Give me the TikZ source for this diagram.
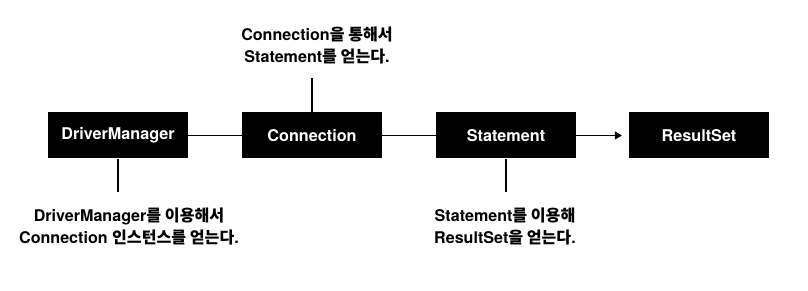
\documentclass[tikz,border=0pt]{standalone}
\usepackage{fontspec}
\setmainfont{TeX Gyre Heros}
\newfontfamily\kr{Noto Sans CJK KR}
\usetikzlibrary{arrows.meta}
\tikzset{
  box/.style={fill=black, text=white, minimum width=140pt, minimum height=46pt, inner sep=0pt, font=\fontsize{16.2}{18}\selectfont\bfseries},
  conn/.style={line width=1.4pt, draw=black},
  note/.style={align=center, font=\fontsize{16.1}{22}\selectfont\bfseries, inner sep=0pt}
}
\begin{document}
\begin{tikzpicture}[x=1pt,y=-1pt]
\useasboundingbox (0,0) rectangle (808,291);
\node[box] (dm) at (118,135.5) {DriverManager};
\node[box] (cn) at (312,135.5) {Connection};
\node[box] (st) at (506,135.5) {Statement};
\node[box] (rs) at (699,135.5) {ResultSet};
\coordinate (ctop) at (312,78);
\coordinate (dmb) at (118,192);
\coordinate (stb) at (506,192);
\draw[conn] (dm) -- (cn);
\draw[conn] (cn) -- (st);
\draw[conn, -{Triangle[length=7pt,width=8pt]}, shorten >=7pt] (st) -- (rs);
\draw[conn] (cn.north) -- (ctop);
\draw[conn] (dm.south) -- (dmb);
\draw[conn] (st.south) -- (stb);
\node[note] (t1) at (317,45.5) {Connection{\kr 을 통해서}\\Statement{\kr 를 얻는다}.};
\node[note] (t2) at (129,226.5) {DriverManager{\kr 를 이용해서}\\Connection {\kr 인스턴스를 얻는다}.};
\node[note] (t3) at (505,226.5) {Statement{\kr 를 이용해}\\ResultSet{\kr 을 얻는다}.};
\end{tikzpicture}
\end{document}
